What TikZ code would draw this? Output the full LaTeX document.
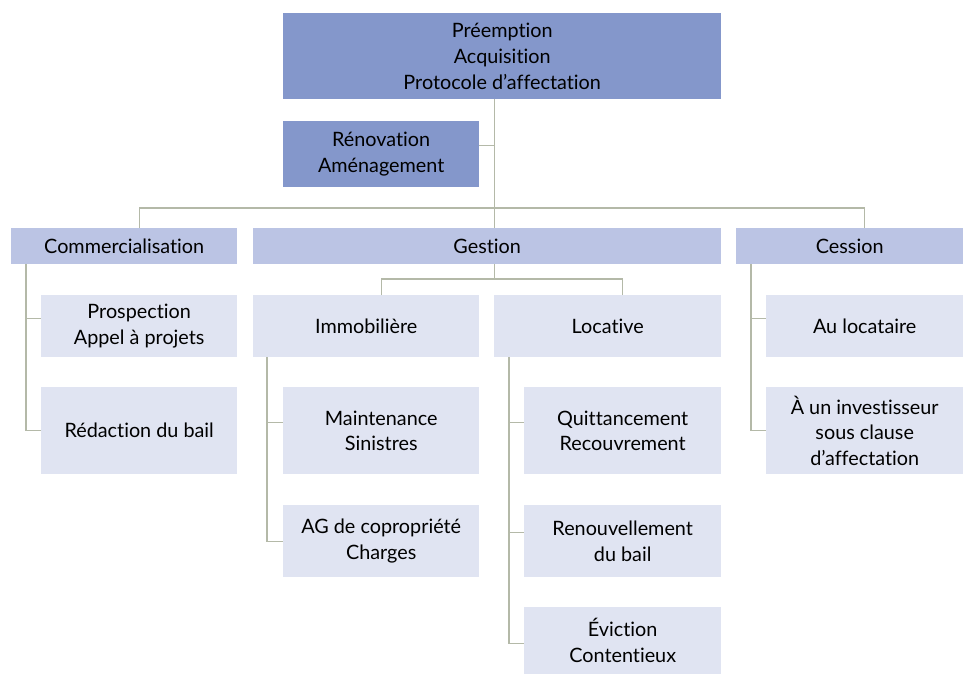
\documentclass[tikz,border=0pt]{standalone}
\usepackage{fontspec}
\setmainfont{Lato}[Ligatures=NoCommon]
\usepackage{tikz}
\usetikzlibrary{positioning}

\definecolor{topblue}{RGB}{132,151,203}
\definecolor{midblue}{RGB}{187,196,228}
\definecolor{leafblue}{RGB}{224,228,242}
\definecolor{linkgray}{RGB}{180,185,168}

\begin{document}
\begin{tikzpicture}
    [x=1pt, y=-1pt,
     box/.style={inner sep=0pt, anchor=north west, align=center,
                 font=\fontsize{19.8}{25.7}\selectfont},
     topbox/.style={box, fill=topblue},
     midbox/.style={box, fill=midblue},
     leafbox/.style={box, fill=leafblue},
     link/.style={draw=linkgray, line width=1.3pt}]
    \useasboundingbox (0,0) rectangle (966,675);

    % upper part
    \node (top) [topbox, minimum width=438pt, minimum height=86pt] at (283,13)
        {Préemption\\Acquisition\\Protocole d’affectation};
    \node (reno) [topbox, minimum width=196pt, minimum height=66pt] at (283,121)
        {Rénovation\\Aménagement};

    % second level
    \node (comm) [midbox, minimum width=226pt, minimum height=36pt] at (11,228) {Commercialisation};
    \node (gest) [midbox, minimum width=468pt, minimum height=36pt] at (253,228) {Gestion};
    \node (cess) [midbox, minimum width=227pt, minimum height=36pt] at (736,228) {Cession};

    % commercialisation
    \node (pros) [leafbox, minimum width=196pt, minimum height=62pt] at (41,295) {Prospection\\Appel à projets};
    \node (redac) [leafbox, minimum width=196pt, minimum height=87pt] at (41,387) {Rédaction du bail};

    % gestion
    \node (immo) [leafbox, minimum width=226pt, minimum height=62pt] at (253,295) {Immobilière};
    \node (loc) [leafbox, minimum width=227pt, minimum height=62pt] at (494,295) {Locative};
    \node (maint) [leafbox, minimum width=196pt, minimum height=87pt] at (283,387) {Maintenance\\Sinistres};
    \node (ag) [leafbox, minimum width=196pt, minimum height=72pt] at (283,505) {AG de copropriété\\Charges};
    \node (quitt) [leafbox, minimum width=197pt, minimum height=87pt] at (524,387) {Quittancement\\Recouvrement};
    \node (renouv) [leafbox, minimum width=197pt, minimum height=72pt] at (524,505) {Renouvellement\\du bail};
    \node (evic) [leafbox, minimum width=197pt, minimum height=67pt] at (524,607) {Éviction\\Contentieux};

    % cession
    \node (auloc) [leafbox, minimum width=197pt, minimum height=62pt] at (766,295) {Au locataire};
    \node (invest) [leafbox, minimum width=197pt, minimum height=87pt] at (766,387) {À un investisseur\\sous clause\\d’affectation};

    % links
    \draw[link] ([xshift=-8pt]top.south) -- ([xshift=7pt]gest.north);
    \draw[link] ([yshift=9pt]reno.east) -- ++(15,0);
    \draw[link] ([xshift=15pt]comm.north) -- ++(0,-20) -| ([xshift=15pt]cess.north);
    \draw[link] ([xshift=7pt]gest.south) -- ++(0,15);
    \draw[link] ([xshift=15pt]immo.north) -- ++(0,-16) -| ([xshift=15pt]loc.north);

    \draw[link] ([xshift=15pt]comm.south west) |- ([yshift=8pt]pros.west);
    \draw[link] ([xshift=15pt]comm.south west) |- (redac.west);

    \draw[link] ([xshift=14pt]immo.south west) |- ([yshift=8.5pt]maint.west);
    \draw[link] ([xshift=14pt]immo.south west) |- (ag.west);

    \draw[link] ([xshift=15pt]loc.south west) |- ([yshift=8.5pt]quitt.west);
    \draw[link] ([xshift=15pt]loc.south west) |- ([yshift=9pt]renouv.west);
    \draw[link] ([xshift=15pt]loc.south west) |- ([yshift=-2.5pt]evic.west);

    \draw[link] ([xshift=15pt]cess.south west) |- ([yshift=8pt]auloc.west);
    \draw[link] ([xshift=15pt]cess.south west) |- (invest.west);

  \end{tikzpicture}
\end{document}
